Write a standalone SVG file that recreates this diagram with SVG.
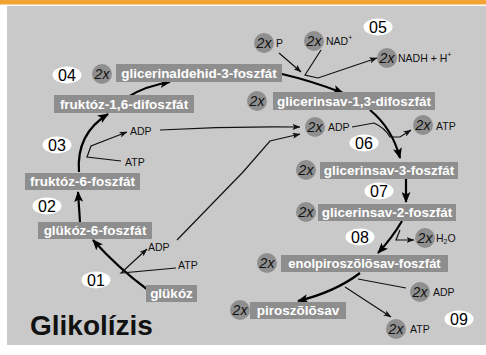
<svg xmlns="http://www.w3.org/2000/svg" width="486" height="355" viewBox="0 0 486 355">
<defs>
<style>
.box{fill:#8e8e8e}
.bt{font-family:"Liberation Sans",Arial,sans-serif;font-weight:bold;font-size:13.5px;fill:#fff;text-anchor:middle}
.c{fill:#8f8f8f}
.ct{font-family:"Liberation Sans",Arial,sans-serif;font-style:italic;font-size:14px;fill:#111;text-anchor:middle}
.ov{fill:#fff}
.ot{font-family:"Liberation Sans",Arial,sans-serif;font-size:16px;fill:#000;text-anchor:middle}
.sm{font-family:"Liberation Sans",Arial,sans-serif;font-size:10.5px;fill:#111}
.thick{fill:none;stroke:#000;stroke-width:2.2}
.thin{fill:none;stroke:#111;stroke-width:1.2}
</style>
<marker id="big" markerWidth="11" markerHeight="9" refX="10" refY="4.5" orient="auto" markerUnits="userSpaceOnUse"><path d="M0,0 L11,4.5 L0,9 L2.5,4.5 z" fill="#000"/></marker>
<marker id="small" markerWidth="8" markerHeight="6" refX="7.5" refY="3" orient="auto" markerUnits="userSpaceOnUse"><path d="M0,0 L8,3 L0,6 L1.8,3 z" fill="#111"/></marker>
</defs>
<rect x="0" y="0" width="486" height="355" fill="#fff"/>
<rect x="0" y="0" width="486" height="4.5" fill="#f0a232"/>
<rect x="7" y="6" width="479" height="339" fill="#c9c9c9"/>

<g id="connectors">
<path class="thick" d="M128,97 Q145,86 170,82" marker-end="url(#big)"/>
<path class="thick" d="M79,172 Q76,134 108,114" marker-end="url(#big)"/>
<path class="thin" d="M121,161 L87,157 L91,146 L127,132" marker-end="url(#small)"/>
<path class="thick" d="M80,222 L78,192" marker-end="url(#big)"/>
<path class="thick" d="M148,290 Q118,268 93,240" marker-end="url(#big)"/>
<path class="thin" d="M176,268 L121,273 L147,249" marker-end="url(#small)"/>
<path class="thin" d="M160,130 Q230,126 300,127" marker-end="url(#small)"/>
<path class="thin" d="M177,240 L243,172 L270,141 L300,134" marker-end="url(#small)"/>
<path class="thick" d="M282,74 Q312,81 343,93" marker-end="url(#big)"/>
<path class="thin" d="M279,53 L301,72" marker-end="url(#small)"/>
<path class="thin" d="M321,50 L305,75 L318,78 L377,58" marker-end="url(#small)"/>
<path class="thick" d="M370,110 Q392,128 400,158" marker-end="url(#big)"/>
<path class="thin" d="M352,127 L374,123 Q385,128 390,137 L400,137 L411,130" marker-end="url(#small)"/>
<path class="thick" d="M406,179 L406,202" marker-end="url(#big)"/>
<path class="thick" d="M402,221 Q392,238 378,253" marker-end="url(#big)"/>
<path class="thin" d="M400,230 L396,240 L414,240" marker-end="url(#small)"/>
<path class="thick" d="M360,273 Q335,292 298,301" marker-end="url(#big)"/>
<path class="thin" d="M406,288 L358,279"/>
<path class="thin" d="M345,287 L391,317" marker-end="url(#small)"/>
</g>

<g id="glicerinaldehid-3-foszfat">
<circle class="c" cx="102" cy="74" r="10"/><text class="ct" x="102" y="79">2x</text>
<rect class="box" x="116" y="64" width="166" height="18"/><text class="bt" x="199" y="77.8">glicerinaldehid-3-foszfát</text>
</g>
<g id="fruktoz-1-6-difoszfat">
<rect class="box" x="54" y="95" width="140" height="18"/><text class="bt" x="124" y="108.8">fruktóz-1,6-difoszfát</text>
</g>
<g id="fruktoz-6-foszfat">
<rect class="box" x="25" y="173" width="115" height="17"/><text class="bt" x="82.5" y="186.3">fruktóz-6-foszfát</text>
</g>
<g id="glukoz-6-foszfat">
<rect class="box" x="38" y="222" width="114" height="17"/><text class="bt" x="95" y="235.3">glükóz-6-foszfát</text>
</g>
<g id="glukoz">
<rect class="box" x="146" y="285" width="51" height="17"/><text class="bt" x="171.5" y="298.3">glükóz</text>
</g>
<g id="glicerinsav-1-3-difoszfat">
<circle class="c" cx="257" cy="101" r="10"/><text class="ct" x="257" y="106">2x</text>
<rect class="box" x="273" y="92" width="162" height="18"/><text class="bt" x="354" y="105.8">glicerinsav-1,3-difoszfát</text>
</g>
<g id="glicerinsav-3-foszfat">
<circle class="c" cx="306" cy="170" r="10"/><text class="ct" x="306" y="175">2x</text>
<rect class="box" x="320" y="162" width="138" height="17"/><text class="bt" x="389" y="175.3">glicerinsav-3-foszfát</text>
</g>
<g id="glicerinsav-2-foszfat">
<circle class="c" cx="306" cy="212" r="10"/><text class="ct" x="306" y="217">2x</text>
<rect class="box" x="318" y="204" width="138" height="17"/><text class="bt" x="387" y="217.3">glicerinsav-2-foszfát</text>
</g>
<g id="enolpiroszolosav-foszfat">
<circle class="c" cx="267" cy="263" r="10"/><text class="ct" x="267" y="268">2x</text>
<rect class="box" x="281" y="255" width="167" height="17"/><text class="bt" x="364.5" y="268.3" style="font-size:13px">enolpiroszõlõsav-foszfát</text>
</g>
<g id="piroszolosav">
<circle class="c" cx="240" cy="310" r="10"/><text class="ct" x="240" y="315">2x</text>
<rect class="box" x="250" y="302" width="96" height="17"/><text class="bt" x="298" y="315.3">piroszõlõsav</text>
</g>

<g id="cofactors">
<text class="sm" x="130" y="135">ADP</text>
<text class="sm" x="125" y="166">ATP</text>
<text class="sm" x="148" y="251">ADP</text>
<text class="sm" x="178" y="269">ATP</text>
<circle class="c" cx="264" cy="43" r="10"/><text class="ct" x="264" y="48">2x</text>
<text class="sm" x="276" y="47">P</text>
<circle class="c" cx="314" cy="41" r="10"/><text class="ct" x="314" y="46">2x</text>
<text class="sm" x="326" y="45">NAD<tspan font-size="7" dy="-5">+</tspan></text>
<circle class="c" cx="387" cy="58" r="10"/><text class="ct" x="387" y="63">2x</text>
<text class="sm" x="398" y="62">NADH + H<tspan font-size="7" dy="-5">+</tspan></text>
<circle class="c" cx="315" cy="127" r="10"/><text class="ct" x="315" y="132">2x</text>
<text class="sm" x="328" y="131">ADP</text>
<circle class="c" cx="423" cy="125" r="10"/><text class="ct" x="423" y="130">2x</text>
<text class="sm" x="436" y="130">ATP</text>
<circle class="c" cx="425" cy="238" r="10"/><text class="ct" x="425" y="243">2x</text>
<text class="sm" x="436" y="242">H<tspan font-size="7" dy="2">2</tspan><tspan dy="-2">O</tspan></text>
<circle class="c" cx="420" cy="292" r="10"/><text class="ct" x="420" y="297">2x</text>
<text class="sm" x="433" y="296">ADP</text>
<circle class="c" cx="396" cy="329" r="10"/><text class="ct" x="396" y="334">2x</text>
<text class="sm" x="410" y="333">ATP</text>
</g>

<g id="steps">
<ellipse class="ov" cx="67" cy="75" rx="14.5" ry="8.5"/><text class="ot" x="67" y="80.8">04</text>
<ellipse class="ov" cx="57" cy="145" rx="14.5" ry="8.5"/><text class="ot" x="57" y="150.8">03</text>
<ellipse class="ov" cx="47" cy="206" rx="14.5" ry="8.5"/><text class="ot" x="47" y="211.8">02</text>
<ellipse class="ov" cx="96" cy="280" rx="14.5" ry="8.5"/><text class="ot" x="96" y="285.8">01</text>
<ellipse class="ov" cx="378" cy="27" rx="14.5" ry="8.5"/><text class="ot" x="378" y="32.8">05</text>
<ellipse class="ov" cx="364" cy="143" rx="14.5" ry="8.5"/><text class="ot" x="364" y="148.8">06</text>
<ellipse class="ov" cx="379" cy="191" rx="14.5" ry="8.5"/><text class="ot" x="379" y="196.8">07</text>
<ellipse class="ov" cx="360" cy="237" rx="14.5" ry="8.5"/><text class="ot" x="360" y="242.8">08</text>
<ellipse class="ov" cx="459" cy="319" rx="14.5" ry="8.5"/><text class="ot" x="459" y="324.8">09</text>
</g>

<text x="30" y="335" font-family="'Liberation Sans',Arial,sans-serif" font-weight="bold" font-size="28" fill="#111">Glikolízis</text>
</svg>
